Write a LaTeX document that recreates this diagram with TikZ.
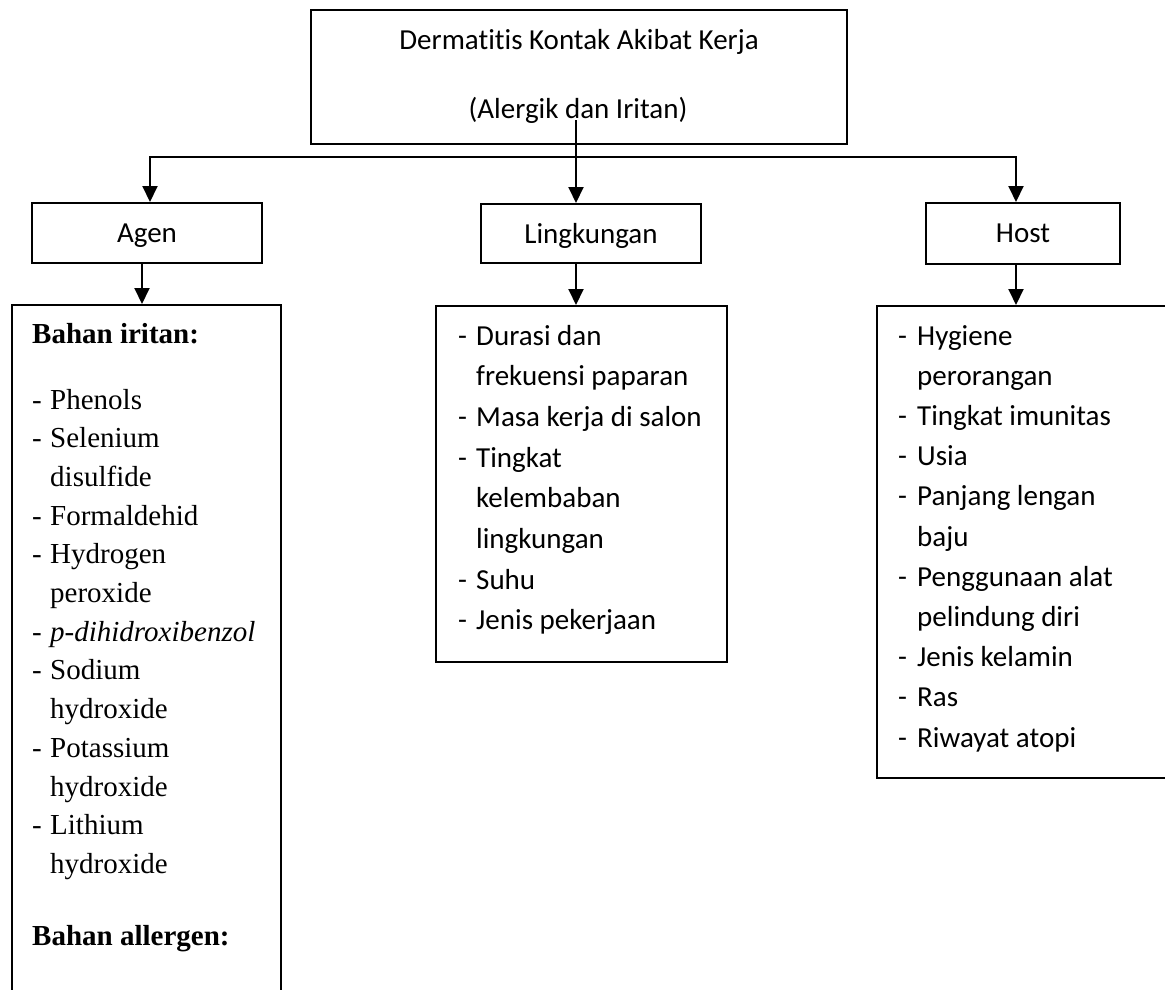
\documentclass[tikz,border=0pt]{standalone}
\usepackage{fontspec}
\setmainfont{Carlito}[Ligatures={CommonOff,ContextualOff},Contextuals=AlternateOff]
\newfontfamily\tnr{Liberation Serif}
\usetikzlibrary{arrows.meta}
\begin{document}
\begin{tikzpicture}[x=1pt,y=-1pt,font=\fontsize{29}{35}\selectfont,
	box/.style={draw,line width=2pt,inner sep=0pt,text depth=0pt},
	arr/.style={line width=2pt,-{Triangle[length=16pt,width=15pt]}},
	txt/.style={anchor=base west,inner sep=0pt},
	rm/.style={anchor=base west,inner sep=0pt,font={\tnr\fontsize{29}{35}\selectfont}}]
	\useasboundingbox (0,0) rectangle (1165,990);
	\clip (0,0) rectangle (1165,990);

	\node[box,minimum width=536pt,minimum height=134pt] (top) at (579,77) {};
	\node[txt,anchor=base] (title) at (579,50) {Dermatitis Kontak Akibat Kerja};
	\node[txt,anchor=base] (subtitle) at (578,118) {(Alergik dan Iritan)};

	\node[box,minimum width=230pt,minimum height=60pt] (agen) at (147,233) {Agen};
	\node[box,minimum width=220pt,minimum height=59pt] (ling) at (591,233.5) {Lingkungan};
	\node[box,minimum width=194pt,minimum height=61pt] (host) at (1023,233.5) {Host};

	\node[box,minimum width=269pt,minimum height=720pt] (irit) at (146.5,665) {};
	\node[box,minimum width=291pt,minimum height=356pt] (faktor) at (581.5,484) {};
	\node[box,minimum width=308pt,minimum height=472pt] (diri) at (1031,542) {};

	\coordinate (stem) at (576,120);
	\coordinate (lft) at (150,157);
	\coordinate (rgt) at (1016,157);
	\draw[arr] (stem) -- (stem |- ling.north);
	\draw[line width=2pt,{Triangle[length=16pt,width=15pt]}-{Triangle[length=16pt,width=15pt]}]
		(lft |- agen.north) -- (lft) -- (rgt) -- (rgt |- host.north);
	\draw[arr] ([xshift=-5pt]agen.south) -- ([xshift=-5pt]agen.south |- irit.north);
	\draw[arr] ([xshift=-15pt]ling.south) -- ([xshift=-15pt]ling.south |- faktor.north);
	\draw[arr] ([xshift=-7pt]host.south) -- ([xshift=-7pt]host.south |- diri.north);

	\node[rm] (irit-head) at (32,343) {\textbf{Bahan iritan:}};
	\foreach \d/\t [count=\i from 0] in {-/Phenols,-/Selenium,/disulfide,-/Formaldehid,
		-/Hydrogen,/peroxide,-/\textit{p-dihidroxibenzol},-/Sodium,/hydroxide,
		-/Potassium,/hydroxide,-/Lithium,/hydroxide}
	{
		\node[rm] (irit-d\i) at (32,{409+38.7*\i}) {\d};
		\node[rm] (irit-\i) at (50,{409+38.7*\i}) {\t};
	}
	\node[rm] (irit-foot) at (32,945) {\textbf{Bahan allergen:}};

	\foreach \d/\t [count=\i from 0] in {-/Durasi dan,/frekuensi paparan,-/Masa kerja di salon,
		-/Tingkat,/kelembaban,/lingkungan,-/Suhu,-/Jenis pekerjaan}
	{
		\node[txt] (faktor-d\i) at (458,{345+40.7*\i}) {\d};
		\node[txt] (faktor-\i) at (476,{345+40.7*\i}) {\t};
	}

	\foreach \d/\t [count=\i from 0] in {-/Hygiene,/perorangan,-/Tingkat imunitas,-/Usia,
		-/Panjang lengan,/baju,-/Penggunaan alat,/pelindung diri,-/Jenis kelamin,-/Ras,-/Riwayat atopi}
	{
		\node[txt] (diri-d\i) at (898,{345+40.2*\i}) {\d};
		\node[txt] (diri-\i) at (917,{345+40.2*\i}) {\t};
	}
\end{tikzpicture}
\end{document}
